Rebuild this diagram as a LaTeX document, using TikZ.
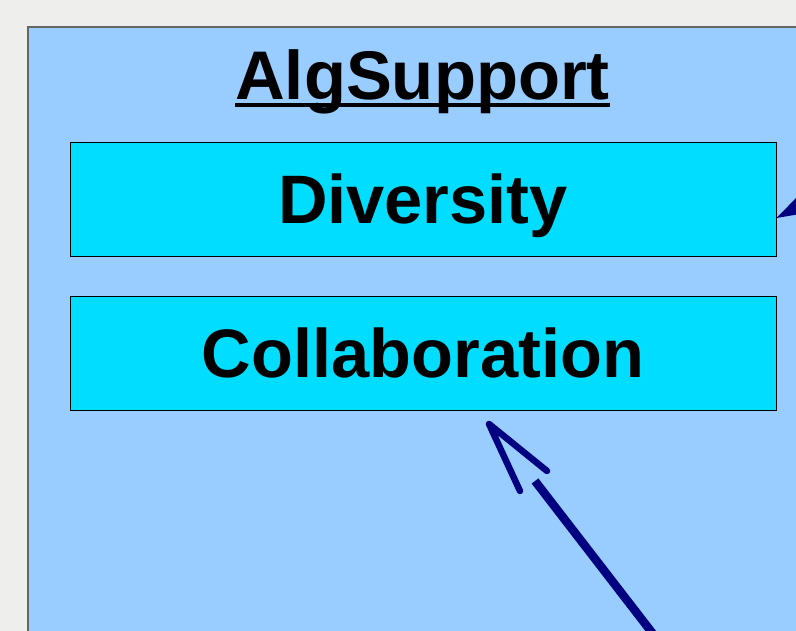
\documentclass[tikz,border=0pt]{standalone}
\usepackage{fontspec}
\setmainfont{Liberation Sans}
\usetikzlibrary{calc}
\definecolor{pagebg}{HTML}{EEEEEC}
\definecolor{panel}{HTML}{99CCFF}
\definecolor{boxcyan}{HTML}{00DDFF}
\definecolor{navyc}{HTML}{000080}
\begin{document}
\begin{tikzpicture}[x=1pt,y=-1pt,
  boxnode/.style={draw=black,line width=1pt,fill=boxcyan,minimum width=706pt,minimum height=114pt,inner sep=0pt,text height=49pt,text depth=1pt,font=\fontsize{68.6}{80}\selectfont\bfseries},
  shaft/.style={draw=navyc,line width=8.5pt},
  headline/.style={draw=navyc,line width=6.5pt,line cap=round,line join=round}]
\useasboundingbox (0,0) rectangle (796,631);
\fill[pagebg] (0,0) rectangle (796,631);
\begin{scope}
\clip (0,0) rectangle (796,631);
\filldraw[fill=panel,draw=black!60,line width=1.2pt] (28,27) rectangle (820,660);
\node[anchor=base,inner sep=0pt,font=\fontsize{68.8}{80}\selectfont\bfseries] (title) at (422.5,100) {AlgSupport};
\fill[black] ($(title.base west)+(0,3.5)$) rectangle ($(title.base east)+(0,7.5)$);
\node[boxnode] (div) at (423,200) {Diversity};
\node[boxnode] (col) at (423,353.5) {Collaboration};
\coordinate (s1) at (660,643);
\coordinate (s2) at (535,481);
\coordinate (tip) at (489,424);
\coordinate (w1) at (547,471);
\coordinate (w2) at (520,491);
\draw[shaft] (s1) -- (s2);
\draw[headline] (w1) -- (tip) -- (w2);
\coordinate (dtip) at (div.east |- 0,218);
\fill[navyc] (dtip) -- (800,194) -- (800,214) -- cycle;
\end{scope}
\end{tikzpicture}
\end{document}
